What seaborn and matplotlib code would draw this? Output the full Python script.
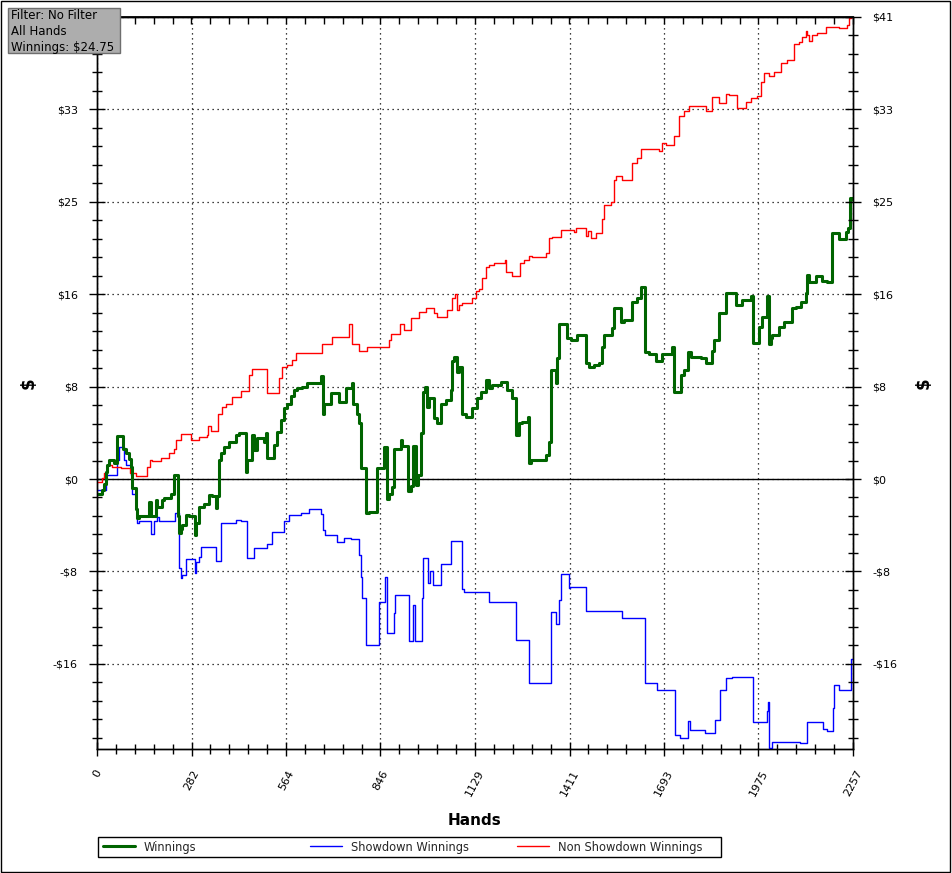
import numpy as np
import pandas as pd
import matplotlib
matplotlib.use('Agg')
import matplotlib.pyplot as plt
from matplotlib.patches import Rectangle
import seaborn as sns

# cumulative winnings by hand (step series)
green_hands = [0, 15, 21, 27, 30, 36, 51, 60, 78, 87,
               96, 101, 104, 116, 119, 125, 155, 161, 176, 179,
               194, 200, 221, 230, 242, 245, 251, 254, 266, 275,
               293, 296, 304, 319, 334, 343, 355, 358, 364, 370,
               379, 394, 415, 424, 445, 448, 463, 469, 478, 499,
               504, 507, 528, 537, 549, 558, 567, 579, 588, 597,
               612, 627, 669, 675, 678, 699, 722, 743, 761, 764,
               776, 782, 788, 803, 812, 836, 857, 866, 872, 881,
               887, 907, 910, 928, 937, 943, 952, 958, 967, 973,
               979, 985, 991, 1006, 1015, 1027, 1042, 1057, 1060, 1066,
               1075, 1081, 1090, 1101, 1119, 1134, 1146, 1161, 1170, 1179,
               1206, 1224, 1239, 1251, 1260, 1269, 1287, 1290, 1296, 1340,
               1349, 1355, 1370, 1373, 1379, 1403, 1415, 1433, 1460, 1469,
               1484, 1498, 1507, 1513, 1537, 1543, 1564, 1573, 1597, 1612,
               1624, 1636, 1648, 1669, 1687, 1716, 1722, 1743, 1752, 1764,
               1773, 1803, 1818, 1836, 1842, 1857, 1878, 1907, 1925, 1952,
               1958, 1976, 1985, 2000, 2006, 2012, 2015, 2036, 2051, 2075,
               2087, 2102, 2116, 2119, 2125, 2146, 2164, 2179, 2194, 2215,
               2236, 2242, 2248, 2257]
green_vals = [-1.3, -1.0, -0.4, 0.6, 1.2, 1.7, 1.4, 3.8, 2.7, 2.3,
              1.8, 1.1, -0.8, -2.7, -3.5, -3.3, -2.0, -3.3, -1.9, -2.5,
              -1.9, -1.7, -1.3, 0.4, -3.3, -4.8, -4.4, -4.1, -3.2, -3.3,
              -5.0, -3.9, -2.5, -2.2, -1.4, -1.5, -2.6, -1.5, 1.7, 2.3,
              2.8, 3.3, 3.9, 4.1, 0.6, 1.7, 3.9, 2.6, 3.6, 3.3,
              4.1, 1.9, 3.0, 4.2, 5.2, 6.3, 6.7, 7.4, 7.9, 8.1,
              8.2, 8.5, 9.1, 5.8, 6.7, 7.6, 6.8, 8.1, 8.5, 6.7,
              5.8, 5.0, 1.0, -3.0, -2.9, 1.0, 2.8, -1.8, -1.3, -0.7,
              2.7, 3.5, 2.9, -1.1, -0.6, 2.9, -0.5, 0.4, 4.1, 7.7,
              8.2, 6.4, 7.2, 5.4, 5.0, 6.7, 7.0, 7.9, 10.5, 10.8,
              9.5, 9.9, 5.8, 5.5, 6.3, 7.2, 7.7, 8.8, 8.1, 8.3,
              8.6, 7.9, 7.2, 3.9, 5.0, 5.1, 5.5, 1.4, 1.7, 2.1,
              3.3, 9.7, 8.5, 10.7, 13.8, 12.5, 12.3, 12.8, 10.3, 9.9,
              10.1, 10.3, 11.7, 12.8, 13.4, 15.2, 13.9, 14.1, 15.7, 16.1,
              17.0, 11.3, 11.1, 10.5, 11.1, 11.7, 7.7, 9.2, 9.7, 11.3,
              10.8, 10.7, 10.3, 11.4, 12.3, 14.7, 16.5, 15.4, 15.9, 16.2,
              12.1, 13.5, 14.4, 16.2, 12.0, 12.5, 12.8, 13.5, 13.9, 15.2,
              15.3, 15.7, 16.5, 18.1, 17.5, 18.0, 17.6, 17.5, 21.8, 21.3,
              21.9, 22.3, 24.9, 24.75]

blue_hands = [0, 27, 60, 66, 81, 87, 101, 104, 116, 119,
              125, 161, 170, 179, 185, 233, 245, 251, 254, 266,
              293, 296, 304, 310, 355, 370, 415, 430, 448, 469,
              507, 522, 558, 573, 609, 633, 669, 675, 681, 716,
              737, 758, 782, 788, 791, 803, 842, 860, 866, 887,
              890, 931, 943, 949, 970, 973, 988, 994, 1003, 1027,
              1057, 1090, 1096, 1170, 1251, 1290, 1355, 1370, 1379, 1385,
              1409, 1412, 1460, 1567, 1636, 1672, 1725, 1740, 1764, 1770,
              1815, 1845, 1860, 1878, 1896, 1958, 2000, 2003, 2006, 2015,
              2099, 2119, 2167, 2179, 2197, 2200, 2215, 2251, 2257]
blue_vals = [-1.0, 0.4, 1.7, 2.8, 1.7, 1.2, 0.4, -1.3, -2.6, -3.9,
             -3.7, -4.9, -3.7, -3.4, -3.7, -3.0, -7.9, -8.8, -8.5, -7.1,
             -8.3, -7.4, -6.9, -6.0, -7.3, -3.9, -3.6, -3.7, -7.0, -6.1,
             -5.8, -4.7, -3.7, -3.2, -3.0, -2.7, -3.1, -4.5, -5.0, -5.6,
             -5.2, -5.3, -6.7, -8.7, -10.6, -14.7, -10.9, -8.7, -13.7, -11.9,
             -10.3, -14.4, -11.2, -14.4, -10.6, -7.0, -9.2, -8.2, -9.4, -7.5,
             -5.5, -9.8, -10.0, -10.9, -14.3, -18.1, -11.8, -12.9, -10.7, -8.4,
             -9.7, -9.6, -11.7, -12.3, -18.1, -18.7, -22.7, -23.0, -21.5, -22.3,
             -22.5, -21.4, -18.7, -17.7, -17.6, -21.6, -20.6, -19.8, -23.9, -23.3,
             -23.4, -21.6, -22.2, -22.4, -20.3, -18.3, -18.7, -16.0, -16.0]

red_hands = [0, 16, 21, 31, 46, 71, 100, 115, 150, 157,
             165, 190, 215, 230, 237, 250, 280, 304, 329, 332,
             339, 361, 374, 384, 404, 429, 454, 464, 508, 543,
             553, 568, 583, 593, 672, 701, 752, 761, 782, 806,
             872, 878, 904, 916, 937, 961, 982, 1006, 1015, 1045,
             1060, 1069, 1075, 1081, 1090, 1119, 1131, 1140, 1149, 1161,
             1170, 1185, 1218, 1221, 1239, 1263, 1275, 1290, 1298, 1340,
             1349, 1358, 1385, 1424, 1430, 1460, 1466, 1475, 1490, 1507,
             1513, 1534, 1543, 1549, 1567, 1597, 1612, 1624, 1678, 1687,
             1699, 1722, 1737, 1752, 1767, 1818, 1836, 1857, 1878, 1887,
             1910, 1937, 1952, 1970, 1982, 1991, 2006, 2021, 2042, 2060,
             2081, 2096, 2104, 2116, 2119, 2125, 2134, 2149, 2176, 2215,
             2239, 2245, 2251, 2257]
red_vals = [-0.3, 0.1, 0.5, 1.2, 1.1, 1.0, 0.5, 0.3, 1.1, 1.7,
            1.6, 1.9, 2.3, 2.7, 3.5, 4.0, 3.5, 3.7, 3.9, 4.7,
            4.3, 5.8, 6.4, 6.7, 7.3, 7.8, 9.2, 9.8, 7.6, 9.0,
            9.9, 10.1, 10.6, 11.2, 12.0, 12.6, 13.8, 12.0, 11.4, 11.7,
            12.3, 12.9, 13.8, 13.2, 14.3, 14.8, 15.2, 14.7, 14.4, 15.0,
            16.1, 16.4, 15.0, 15.4, 15.6, 16.1, 16.7, 16.9, 17.8, 18.8,
            19.0, 19.2, 19.4, 18.4, 18.0, 19.2, 19.4, 19.8, 19.7, 20.1,
            21.4, 21.5, 22.1, 21.9, 22.3, 21.6, 22.0, 21.4, 21.8, 23.1,
            24.3, 24.6, 26.5, 26.9, 26.5, 28.0, 28.5, 29.3, 29.1, 29.8,
            29.6, 30.4, 32.2, 32.7, 33.1, 32.7, 33.9, 33.4, 34.2, 34.1,
            32.9, 33.5, 33.8, 34.0, 35.2, 36.0, 35.8, 36.1, 36.9, 37.2,
            38.6, 38.8, 39.2, 39.8, 39.4, 38.9, 39.4, 39.6, 40.1, 40.0,
            40.3, 40.9, 41.0, 41.0]

x_ticks = [0, 282.125, 564.25, 846.375, 1128.5, 1410.625, 1692.75, 1974.875, 2257]
x_labels = ['0', '282', '564', '846', '1129', '1411', '1693', '1975', '2257']
y_ticks = [-16.4, -8.2, 0, 8.2, 16.4, 24.6, 32.8, 41]
y_labels = ['-$16', '-$8', '$0', '$8', '$16', '$25', '$33', '$41']

series_names = ['Winnings', 'Showdown Winnings', 'Non Showdown Winnings']
box_text = 'Filter: No Filter\nAll Hands\nWinnings: $24.75'

assert len(green_hands) == len(green_vals)
assert len(blue_hands) == len(blue_vals)
assert len(red_hands) == len(red_vals)

sns.set_theme(style='white')
plt.rcParams['font.family'] = ['DejaVu Sans']

W, H = 952, 873
fig = plt.figure(figsize=(W / 100, H / 100), dpi=100)
fig.patch.set_facecolor('white')
ax = fig.add_axes([97 / W, 1 - 749 / H, 756 / W, 732 / H])

styles = {
    'Showdown Winnings': (blue_hands, blue_vals, '#0000ff', 1.0),
    'Non Showdown Winnings': (red_hands, red_vals, '#ff0000', 1.0),
    'Winnings': (green_hands, green_vals, '#006400', 2.2),
}
handles = {}
for name in ['Showdown Winnings', 'Non Showdown Winnings', 'Winnings']:
    hands, vals, color, lw = styles[name]
    df = pd.DataFrame({'hands': hands, 'dollars': vals})
    sns.lineplot(data=df, x='hands', y='dollars', ax=ax, color=color, lw=lw,
                 drawstyle='steps-post', estimator=None, sort=False,
                 errorbar=None, zorder=4)
    handles[name] = ax.get_lines()[-1]

ax.axhline(0, color='black', lw=1, zorder=3)

ax.set_xlim(0, 2257)
ax.set_ylim(-23.96, 41)
ax.set_xticks(x_ticks, x_labels, rotation=62)
ax.set_xticks(np.linspace(0, 2257, 41), minor=True)
# the top-left label sits under the filter box, so it is left blank there
ax.set_yticks(y_ticks, y_labels[:-1] + [''])
ax.set_yticks(np.arange(-22.96, 41.01, 1.64), minor=True)
ax.grid(True, which='major', color='black', linestyle=(0, (1, 3)), lw=0.9)
ax.grid(False, which='minor')
ax.tick_params(which='both', direction='inout', color='black', width=1,
               bottom=True, left=True, top=False, labelsize=8, labelcolor='black')
ax.tick_params(which='major', length=11.5, pad=8)
ax.tick_params(which='minor', length=6.5)
ax.tick_params(axis='x', which='major', length=10, pad=9)
ax.set_xlabel('Hands', fontsize=11, fontweight='bold', color='black')
ax.xaxis.set_label_coords(0.5, -0.088)
ax.set_ylabel('$', fontsize=12, fontweight='bold', color='black')
ax.yaxis.set_label_coords(-0.079, 0.5)
for sp in ax.spines.values():
    sp.set_color('black')
    sp.set_linewidth(1)

top = ax.secondary_xaxis('top')
top.set_xticks(x_ticks, [''] * len(x_ticks))
top.set_xticks(np.linspace(0, 2257, 41), minor=True)
top.tick_params(which='both', direction='in', length=5, width=1, color='black', top=True)
top.spines['top'].set_color('black')

ax2 = ax.twinx()
ax2.set_ylim(ax.get_ylim())
ax2.set_yticks(y_ticks, y_labels)
ax2.set_yticks(np.arange(-22.96, 41.01, 1.64), minor=True)
ax2.grid(False)
ax2.tick_params(which='both', direction='inout', color='black', width=1,
                right=True, labelsize=8, labelcolor='black')
ax2.tick_params(which='major', length=11.5, pad=8)
ax2.tick_params(which='minor', length=6.5)
ax2.set_ylabel('$', fontsize=12, fontweight='bold', color='black')
ax2.yaxis.set_label_coords(1.082, 0.5)
for sp in ax2.spines.values():
    sp.set_color('black')
    sp.set_linewidth(1)

# legend row under the plot
fig.patches.append(Rectangle((98 / W, 1 - 857 / H), 623 / W, 20 / H,
                             transform=fig.transFigure, fill=False,
                             edgecolor='black', lw=1))
for name, x0 in zip(series_names, [103, 310, 517]):
    fig.legend(handles=[handles[name]], labels=[name], loc='center left',
               bbox_to_anchor=(x0 / W, 1 - 847 / H), frameon=False,
               fontsize=8.3, handlelength=2.78, handletextpad=0.78,
               borderpad=0, borderaxespad=0)

# filter info box in the corner
fig.patches.append(Rectangle((8 / W, 1 - 53 / H), 112 / W, 45 / H,
                             transform=fig.transFigure, facecolor='#adadad',
                             edgecolor='#6e6e6e', lw=1, zorder=10))
fig.text(11 / W, 1 - 9 / H, box_text, fontsize=8.5, va='top', ha='left',
         color='black', linespacing=1.3, zorder=11)

# outer frame
fig.patches.append(Rectangle((1 / W, 1 / H), 949 / W, 871 / H,
                             transform=fig.transFigure, fill=False,
                             edgecolor='black', lw=1))

fig.savefig('out.png', dpi=100, facecolor='white')
